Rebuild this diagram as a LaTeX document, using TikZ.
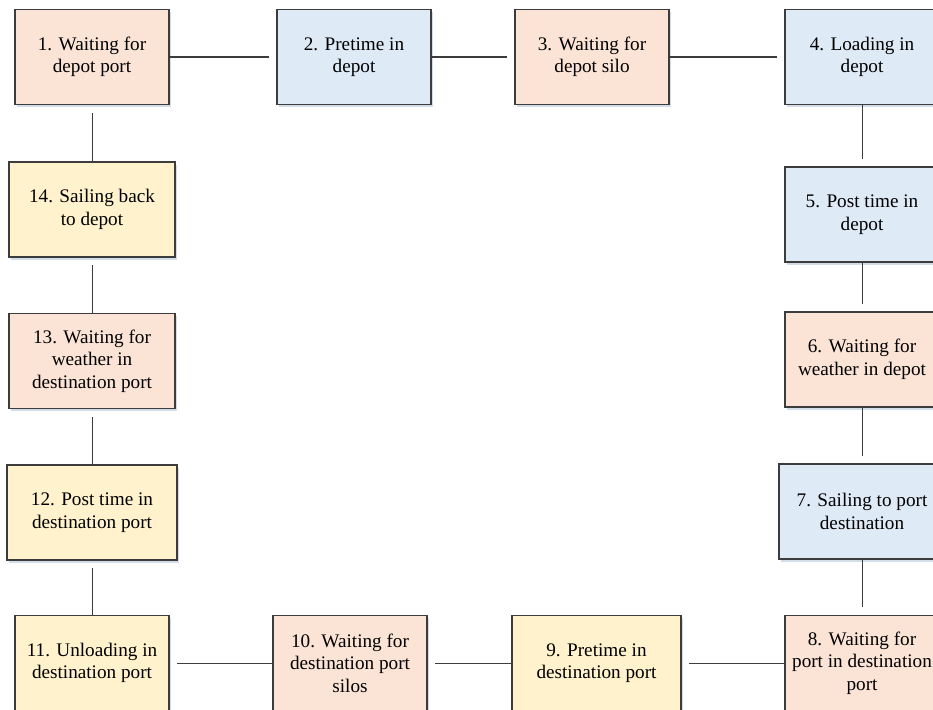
\documentclass[tikz,border=0pt]{standalone}
\usepackage{fontspec}
\setmainfont{Liberation Serif}
\usetikzlibrary{shadows}
\definecolor{peach}{HTML}{FBE4D6}
\definecolor{skyblue}{HTML}{DEEAF6}
\definecolor{cream}{HTML}{FFF2CC}
\definecolor{edge}{HTML}{3C3C3C}
\definecolor{shade}{HTML}{D3DDEA}
\tikzset{
  x=1pt, y=-1pt,
  stage/.style={draw=edge, line width=1.1pt, rectangle, align=center,
    minimum height=95pt, inner sep=2pt,
    font=\fontsize{19.2}{22.5}\selectfont,
    drop shadow={shadow xshift=1.5pt, shadow yshift=-2.5pt, fill=shade, opacity=1}},
  waitbox/.style={stage, fill=peach},
  depotbox/.style={stage, fill=skyblue},
  portbox/.style={stage, fill=cream},
  link/.style={draw=edge, line width=1pt, shorten >=7.5pt}
}
\begin{document}
\begin{tikzpicture}
\useasboundingbox (0,0) rectangle (933,709);
\clip (0,0) rectangle (933,709);
% top row
\node[waitbox,  minimum width=154pt] (s1) at (92,57)   {1. Waiting for\\depot port};
\node[depotbox, minimum width=154pt] (s2) at (354,57)  {2. Pretime in\\depot};
\node[waitbox,  minimum width=154pt] (s3) at (592,57)  {3. Waiting for\\depot silo};
\node[depotbox, minimum width=154pt] (s4) at (862,57)  {4. Loading in\\depot};
% right column
\node[depotbox, minimum width=154pt] (s5) at (862,214.5) {5. Post time in\\depot};
\node[waitbox,  minimum width=154pt] (s6) at (862,359.5) {6. Waiting for\\weather in depot};
\node[depotbox, minimum width=166pt] (s7) at (862,511.5) {7. Sailing to port\\destination};
\node[waitbox,  minimum width=154pt] (s8) at (862,663)   {8. Waiting for\\port in destination\\port};
% bottom row
\node[portbox,  minimum width=169pt] (s9)  at (596.5,663) {9. Pretime in\\destination port};
\node[waitbox,  minimum width=154pt] (s10) at (350,663)   {10. Waiting for\\destination port\\silos};
\node[portbox,  minimum width=154pt] (s11) at (92,663)    {11. Unloading in\\destination port};
% left column
\node[portbox,  minimum width=170pt] (s12) at (92,512.5) {12. Post time in\\destination port};
\node[waitbox,  minimum width=166pt] (s13) at (92,361)   {13. Waiting for\\weather in\\destination port};
\node[portbox,  minimum width=166pt] (s14) at (92,209.5) {14. Sailing back\\to depot};
% cycle of connectors
\draw[link] (s1) -- (s2);
\draw[link] (s2) -- (s3);
\draw[link] (s3) -- (s4);
\draw[link] (s4) -- (s5);
\draw[link] (s5) -- (s6);
\draw[link] (s6) -- (s7);
\draw[link] (s7) -- (s8);
\draw[link] (s8) -- (s9);
\draw[link] (s9) -- (s10);
\draw[link] (s10) -- (s11);
\draw[link] (s11) -- (s12);
\draw[link] (s12) -- (s13);
\draw[link] (s13) -- (s14);
\draw[link] (s14) -- (s1);
\end{tikzpicture}
\end{document}
